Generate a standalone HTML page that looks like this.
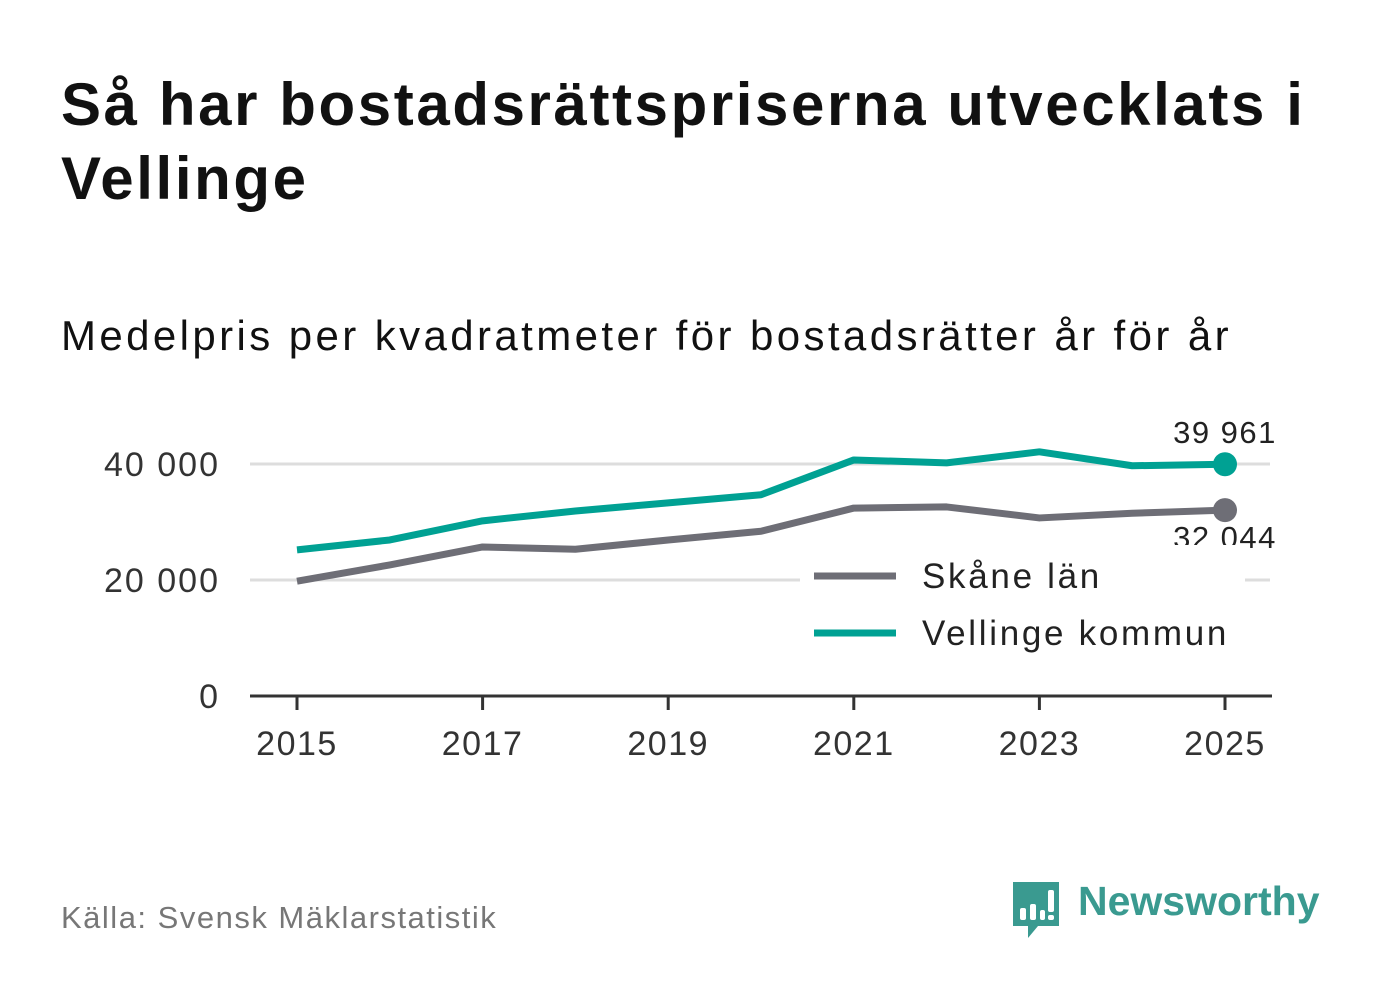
<!DOCTYPE html>
<html><head><meta charset="utf-8"><style>
body{margin:0;width:1382px;height:999px;background:#fff;font-family:"Liberation Sans",sans-serif;position:relative;overflow:hidden}
.t{position:absolute;left:61px;top:68px;font-size:60px;font-weight:bold;color:#111;line-height:74px;width:1320px;letter-spacing:2.6px}
.s{position:absolute;left:61px;top:312px;font-size:42px;color:#111;letter-spacing:3.4px}
.src{position:absolute;left:61px;top:900px;font-size:31px;color:#777;letter-spacing:1.5px}
.logo{position:absolute;left:1078px;top:878px;font-size:41px;font-weight:bold;color:#3a9a90}
</style></head><body>
<div class="t">Så har bostadsrättspriserna utvecklats i Vellinge</div>
<div class="s">Medelpris per kvadratmeter för bostadsrätter år för år</div>
<div class="src">Källa: Svensk Mäklarstatistik</div>
<svg style="position:absolute;left:1010px;top:880px" width="52" height="60"><path d="M3 2h46v44H28l-10 12v-12H3z" fill="#3a9a90"/><rect x="10" y="28" width="6" height="12" fill="#fff" rx="2"/><rect x="20" y="24" width="6" height="16" fill="#fff" rx="2"/><rect x="30" y="30" width="5" height="10" fill="#fff" rx="2"/><rect x="38" y="10" width="6" height="22" fill="#fff" rx="2"/><rect x="38" y="35" width="6" height="5" fill="#fff" rx="2"/></svg>
<div class="logo">Newsworthy</div>
<svg id="c" width="1382" height="999" style="position:absolute;left:0;top:0"></svg>
<script>
const years=[2015,2016,2017,2018,2019,2020,2021,2022,2023,2024,2025];
const skane=[19800,22600,25700,25300,26900,28400,32400,32600,30700,31500,32044];
const vellinge=[25200,26900,30200,31900,33300,34700,40700,40200,42100,39700,39961];
const yTicks=[0,20000,40000];
const xTicks=[2015,2017,2019,2021,2023,2025];
const NS="http://www.w3.org/2000/svg",svg=document.getElementById('c');
const x=v=>297+(v-2015)*92.8, y=v=>696-v*0.0058;
function mk(t,a,txt){const e=document.createElementNS(NS,t);for(const k in a)e.setAttribute(k,a[k]);if(txt!=null)e.textContent=txt;svg.appendChild(e);return e;}
const fmt=v=>v===0?"0":String(v).replace(/\B(?=(\d{3})+(?!\d))/g," ");
yTicks.forEach(v=>{if(v>0){const g=mk('line',{x1:250,x2:1270,y1:y(v),y2:y(v),stroke:'#ddd','stroke-width':3});

}
const t=mk('text',{x:220,y:y(v)+12,'text-anchor':'end','font-size':34,fill:'#333','font-family':'Liberation Sans','letter-spacing':2},fmt(v));

});
const ax=mk('line',{x1:250,x2:1272,y1:696,y2:696,stroke:'#333','stroke-width':3});


xTicks.forEach(v=>{const l=mk('line',{x1:x(v),x2:x(v),y1:696,y2:710,stroke:'#333','stroke-width':3});


const t=mk('text',{x:x(v),y:755,'text-anchor':'middle','font-size':34,fill:'#333','font-family':'Liberation Sans','letter-spacing':1.5},v);

});
function series(d,col,name,ly){
const p=mk('polyline',{points:d.map((v,i)=>x(years[i])+','+y(v)).join(' '),fill:'none',stroke:col,'stroke-width':7,'stroke-linejoin':'round'});


const n=d.length-1;
const c=mk('circle',{cx:x(years[n]),cy:y(d[n]),r:12,fill:col});


const t=mk('text',{x:x(years[n]),y:ly,'text-anchor':'middle','font-size':31,fill:'#222','font-family':'Liberation Sans','letter-spacing':1.5},fmt(d[n]));

}
series(skane,'#6e6e76','skane',548);
series(vellinge,'#00a193','vellinge',443);
const lg=[['#6e6e76','Skåne län',576],['#00a193','Vellinge kommun',633]];
const bg=mk('rect',{x:800,y:545,width:445,height:115,fill:'#fff'});


lg.forEach(([c,n,yy])=>{const l=mk('line',{x1:814,x2:896,y1:yy,y2:yy,stroke:c,'stroke-width':7});


const t=mk('text',{x:922,y:yy+12,'font-size':35,fill:'#222','font-family':'Liberation Sans','letter-spacing':2.7},n);

});
</script>
</body></html>
